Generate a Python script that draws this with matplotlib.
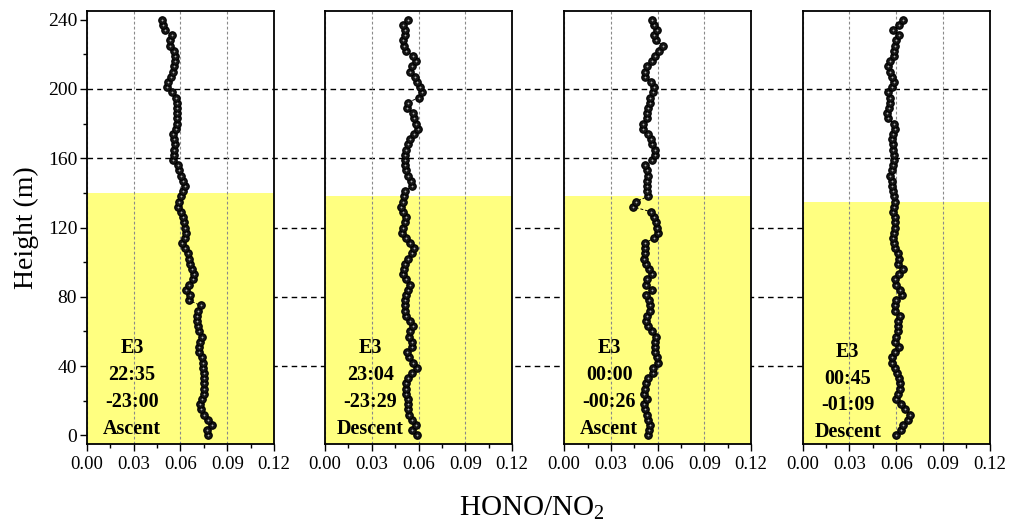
import matplotlib
matplotlib.use('Agg')
import matplotlib.pyplot as plt
from matplotlib.ticker import MultipleLocator, FormatStrFormatter

plt.rcParams['font.family'] = 'Liberation Serif'
plt.rcParams['mathtext.fontset'] = 'custom'
plt.rcParams['mathtext.rm'] = 'Liberation Serif'

# heights (m) at which the profiles were read
heights = [0, 3, 6, 9, 12, 15, 18, 21, 24, 27, 30, 33, 36, 39, 42, 45, 48, 51, 54, 57,
           60, 63, 66, 69, 72, 75, 78, 81, 84, 87, 90, 93, 96, 99, 102, 105, 108, 111, 114, 117,
           120, 123, 126, 129, 132, 135, 138, 141, 144, 147, 150, 153, 156, 159, 162, 165, 168, 171, 174, 177,
           180, 183, 186, 189, 192, 195, 198, 201, 204, 207, 210, 213, 216, 219, 222, 225, 228, 231, 234, 237,
           240]

p1 = [0.0779, 0.0768, 0.0800, 0.0779, 0.0750, 0.0730, 0.0728, 0.0740, 0.0748, 0.0751,
      0.0753, 0.0751, 0.0750, 0.0747, 0.0747, 0.0740, 0.0722, 0.0718, 0.0726, 0.0739,
      0.0722, 0.0711, 0.0708, 0.0708, 0.0713, 0.0729, 0.0654, 0.0660, 0.0636, 0.0655,
      0.0678, 0.0686, 0.0671, 0.0663, 0.0654, 0.0646, 0.0630, 0.0607, 0.0630, 0.0633,
      0.0626, 0.0620, 0.0614, 0.0605, 0.0587, 0.0592, 0.0603, 0.0615, 0.0627, 0.0617,
      0.0603, 0.0592, 0.0582, 0.0555, 0.0556, 0.0561, 0.0564, 0.0559, 0.0553, 0.0570,
      0.0579, 0.0580, 0.0575, 0.0575, 0.0575, 0.0572, 0.0545, 0.0516, 0.0520, 0.0538,
      0.0551, 0.0560, 0.0565, 0.0565, 0.0556, 0.0534, 0.0530, 0.0545, 0.0500, 0.0487,
      0.0479]

p2 = [0.0588, 0.0557, 0.0585, 0.0557, 0.0540, 0.0535, 0.0535, 0.0530, 0.0522, 0.0520,
      0.0520, 0.0535, 0.0555, 0.0588, 0.0565, 0.0540, 0.0527, 0.0555, 0.0555, 0.0540,
      0.0548, 0.0565, 0.0545, 0.0520, 0.0513, 0.0513, 0.0513, 0.0520, 0.0530, 0.0545,
      0.0520, 0.0497, 0.0505, 0.0515, 0.0535, 0.0555, 0.0570, 0.0545, 0.0520, 0.0495,
      0.0500, 0.0515, 0.0520, 0.0500, 0.0490, 0.0498, 0.0505, 0.0515, 0.0560, 0.0550,
      0.0530, 0.0520, 0.0513, 0.0513, 0.0515, 0.0520, 0.0530, 0.0543, 0.0570, 0.0595,
      0.0585, 0.0572, 0.0567, 0.0527, 0.0530, 0.0600, 0.0625, 0.0610, 0.0590, 0.0575,
      0.0545, 0.0560, 0.0585, 0.0567, 0.0520, 0.0505, 0.0497, 0.0510, 0.0513, 0.0503,
      0.0535]

p3 = [0.0541, 0.0545, 0.0552, 0.0535, 0.0533, 0.0522, 0.0514, 0.0530, 0.0510, 0.0518,
      0.0527, 0.0535, 0.0573, 0.0570, 0.0600, 0.0595, 0.0584, 0.0584, 0.0580, 0.0590,
      0.0565, 0.0541, 0.0527, 0.0531, 0.0548, 0.0548, 0.0543, 0.0525, 0.0563, 0.0525,
      0.0531, 0.0565, 0.0545, 0.0525, 0.0510, 0.0518, 0.0520, 0.0520, 0.0578, 0.0605,
      0.0597, 0.0587, 0.0575, 0.0560, 0.0440, 0.0460, 0.0541, 0.0531, 0.0531, 0.0533,
      0.0541, 0.0530, 0.0520, 0.0565, 0.0580, 0.0582, 0.0565, 0.0555, 0.0540, 0.0509,
      0.0509, 0.0530, 0.0530, 0.0540, 0.0548, 0.0550, 0.0573, 0.0577, 0.0560, 0.0518,
      0.0522, 0.0533, 0.0565, 0.0580, 0.0606, 0.0633, 0.0590, 0.0578, 0.0599, 0.0575,
      0.0563]

p4 = [0.0601, 0.0633, 0.0645, 0.0675, 0.0686, 0.0654, 0.0630, 0.0598, 0.0612, 0.0622,
      0.0622, 0.0620, 0.0605, 0.0590, 0.0571, 0.0574, 0.0590, 0.0620, 0.0592, 0.0600,
      0.0610, 0.0612, 0.0612, 0.0627, 0.0590, 0.0590, 0.0600, 0.0638, 0.0625, 0.0598,
      0.0590, 0.0620, 0.0642, 0.0610, 0.0615, 0.0610, 0.0590, 0.0585, 0.0580, 0.0585,
      0.0594, 0.0592, 0.0590, 0.0582, 0.0585, 0.0590, 0.0585, 0.0578, 0.0571, 0.0572,
      0.0562, 0.0570, 0.0576, 0.0584, 0.0584, 0.0580, 0.0578, 0.0575, 0.0580, 0.0590,
      0.0585, 0.0545, 0.0540, 0.0552, 0.0562, 0.0558, 0.0550, 0.0575, 0.0588, 0.0572,
      0.0560, 0.0548, 0.0560, 0.0584, 0.0584, 0.0595, 0.0600, 0.0620, 0.0578, 0.0615,
      0.0644]

profiles = [p1, p2, p3, p4]
layer_tops = [140, 138, 138, 135]
labels = ['E3\n22:35\n-23:00\nAscent',
          'E3\n23:04\n-23:29\nDescent',
          'E3\n00:00\n-00:26\nAscent',
          'E3\n00:45\n-01:09\nDescent']
label_y = [27, 27, 27, 25]
ref_heights = [40, 80, 120, 160, 200]

fig = plt.figure(figsize=(10.11, 5.27), dpi=100)
lefts = [0.086, 0.3215, 0.558, 0.794]
axes = []
for i in range(4):
    ax = fig.add_axes([lefts[i], 0.1575, 0.185, 0.8216])
    ax.set_facecolor('none')
    axes.append(ax)

for i, ax in enumerate(axes):
    ax.set_xlim(0, 0.12)
    ax.set_ylim(-5, 245)
    ax.axhspan(-5, layer_tops[i], color='#ffff80', zorder=1, lw=0)
    ax.grid(axis='x', linestyle=(0, (2.5, 2)), color='#8a8a8a', lw=0.8)
    ax.plot(profiles[i], heights, linestyle=(0, (3, 2)), color='black', lw=0.7, zorder=3)
    ax.plot(profiles[i], heights, 'o', ms=5.4, mfc='#151515', mec='black', mew=0.8, zorder=4)
    ax.plot(profiles[i], heights, 'o', ms=1.3, mfc='#b0b0b0', mec='none', zorder=5)
    ax.text(0.029, label_y[i], labels[i], ha='center', va='center', fontsize=14.5,
            fontweight='bold', linespacing=1.45, zorder=6)

    ax.xaxis.set_major_locator(MultipleLocator(0.03))
    ax.xaxis.set_minor_locator(MultipleLocator(0.015))
    ax.xaxis.set_major_formatter(FormatStrFormatter('%.2f'))
    ax.tick_params(axis='x', which='major', direction='out', length=5, width=1, labelsize=13.5)
    ax.tick_params(axis='x', which='minor', direction='out', length=3, width=1)
    ax.tick_params(top=False, right=False)
    for s in ax.spines.values():
        s.set_linewidth(1.3)
    if i == 0:
        ax.yaxis.set_major_locator(MultipleLocator(40))
        ax.yaxis.set_minor_locator(MultipleLocator(20))
        ax.tick_params(axis='y', which='major', direction='out', length=5, width=1,
                       labelsize=14, pad=2)
        ax.tick_params(axis='y', which='minor', direction='out', length=3, width=1)
        ax.set_ylabel('Height (m)', fontsize=20, labelpad=6)
    else:
        ax.tick_params(axis='y', which='both', left=False, labelleft=False)

# dashed reference heights running across all panels, hidden by the yellow layers
ax0 = axes[0]
for h in ref_heights:
    ax0.plot([0, 4.81], [h, h], transform=ax0.get_yaxis_transform(), clip_on=False,
             color='black', lw=1.0, linestyle=(0, (4, 3)), zorder=0.5)

fig.text(0.526, 0.035, r'HONO/NO$_\mathrm{2}$', ha='center', va='center', fontsize=21)

fig.savefig('out.png', dpi=100)
